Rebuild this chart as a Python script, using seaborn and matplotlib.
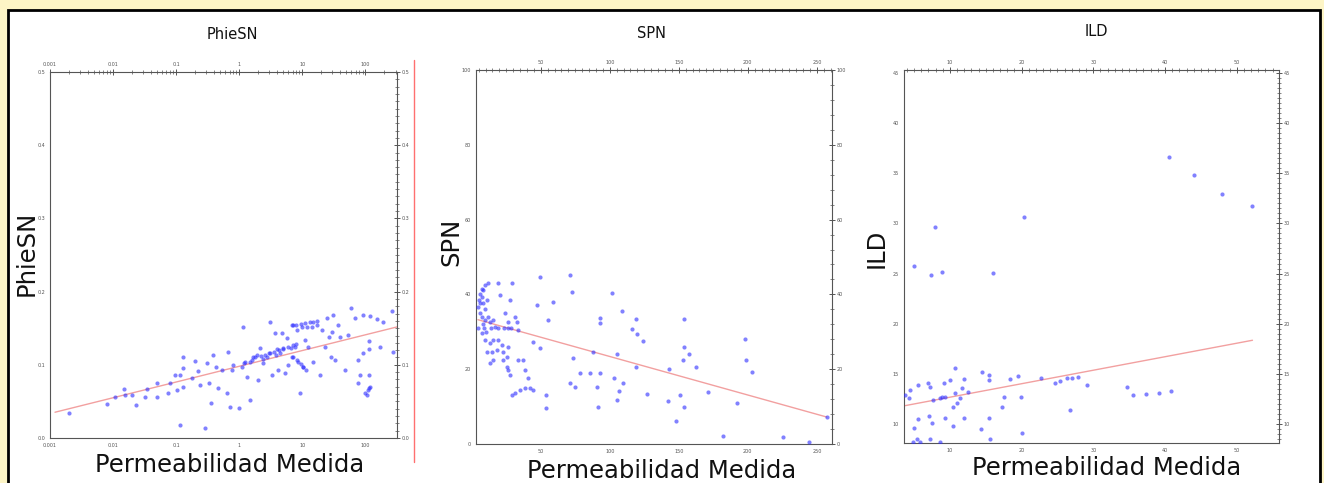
import numpy as np
import pandas as pd
import matplotlib
matplotlib.use("Agg")
import matplotlib.pyplot as plt
import seaborn as sns
from matplotlib.patches import Rectangle
from matplotlib.lines import Line2D
from matplotlib.ticker import MultipleLocator, LogLocator, FixedLocator, FixedFormatter

# ==========================================
# Data
# ==========================================

# PhieSN vs permeability (log x axis)
phiesn_perm = [0.0020, 0.0080, 0.0108, 0.0150, 0.0155, 0.020, 0.023, 0.032, 0.035, 0.050,
               0.050, 0.075, 0.080, 0.096, 0.104, 0.116, 0.129, 0.129, 0.129, 0.116,
               0.18, 0.20, 0.22, 0.24, 0.29, 0.31, 0.33, 0.35, 0.39, 0.42,
               0.46, 0.54, 0.65, 0.67, 0.72, 0.77, 0.80, 1.0, 1.12, 1.16,
               1.24, 1.34, 1.50, 1.61, 1.67, 1.93, 2.0, 2.15, 2.40, 2.78,
               3.1, 3.1, 3.34, 3.72, 4.0, 4.16, 4.48, 4.8, 5.0, 5.4,
               5.8, 6.0, 6.5, 6.9, 7.2, 7.7, 8.3, 8.6, 9.3, 10,
               10.4, 11.2, 12, 12.4, 14.4, 15, 17.3, 19.3, 20.7, 23,
               25, 26, 28, 30, 31, 33, 37, 40, 48, 52,
               58, 69, 75, 77, 83, 90, 93, 100, 104, 108,
               112, 116, 112, 112, 112, 120, 155, 173, 193, 268,
               278, 1.5, 1.8, 2.2, 2.6, 3.0, 3.5, 4.2, 5.0, 6.0,
               7.0, 8.0, 1.2, 2.4, 3.8, 6.9, 8.0, 9.5, 11, 13,
               15, 17, 7.2, 8.3, 9.5, 10.4, 11.5]
phiesn_val = [0.034, 0.047, 0.056, 0.067, 0.059, 0.059, 0.045, 0.056, 0.067, 0.075,
              0.056, 0.062, 0.075, 0.086, 0.066, 0.086, 0.096, 0.110, 0.070, 0.018,
              0.082, 0.105, 0.092, 0.073, 0.014, 0.103, 0.075, 0.048, 0.114, 0.097,
              0.068, 0.093, 0.062, 0.118, 0.042, 0.093, 0.100, 0.041, 0.097, 0.151,
              0.104, 0.084, 0.052, 0.107, 0.111, 0.114, 0.079, 0.123, 0.103, 0.111,
              0.158, 0.116, 0.086, 0.144, 0.121, 0.093, 0.116, 0.144, 0.123, 0.089,
              0.137, 0.100, 0.123, 0.111, 0.155, 0.125, 0.148, 0.104, 0.062, 0.151,
              0.097, 0.134, 0.151, 0.125, 0.152, 0.104, 0.155, 0.086, 0.148, 0.125,
              0.164, 0.138, 0.111, 0.145, 0.168, 0.107, 0.155, 0.138, 0.093, 0.141,
              0.177, 0.164, 0.075, 0.107, 0.086, 0.116, 0.168, 0.062, 0.059, 0.066,
              0.068, 0.070, 0.132, 0.121, 0.086, 0.166, 0.162, 0.125, 0.158, 0.173,
              0.118, 0.104, 0.110, 0.112, 0.114, 0.116, 0.118, 0.120, 0.121, 0.124,
              0.127, 0.129, 0.102, 0.108, 0.114, 0.154, 0.155, 0.156, 0.157, 0.158,
              0.159, 0.160, 0.111, 0.106, 0.101, 0.097, 0.093]

# SPN vs permeability
spn_perm = [9.6, 11.7, 8.1, 7.4, 6.0, 4.5, 8.1, 11.0, 6.0, 7.4,
            9.6, 11.7, 13.2, 15.3, 19.0, 20.4, 27.6, 29.1, 24.0, 26.2,
            31.2, 32.7, 33.4, 16.8, 26.2, 7.4, 9.6, 13.2, 15.3, 19.0,
            21.8, 11.0, 14.6, 18.2, 22.6, 25.5, 26.2, 13.2, 15.3, 22.6,
            25.5, 26.2, 27.6, 29.1, 31.2, 34.8, 38.4, 33.4, 37.0, 38.4,
            40.6, 42.1, 44.2, 47.1, 58.7, 49.3, 55.1, 49.3, 44.2, 53.6,
            53.6, 71.0, 72.4, 73.2, 71.0, 74.5, 78.2, 85.4, 87.5, 90.4,
            92.6, 91.2, 92.6, 92.6, 101.3, 109.2, 119.3, 116.4, 120.0, 124.4,
            105.6, 119.3, 103.4, 109.9, 107.0, 105.6, 127.3, 143.1, 142.4, 148.2,
            154.0, 154.0, 153.3, 157.6, 162.6, 151.1, 154.0, 171.3, 182.1, 192.2,
            198.0, 198.7, 203.1, 225.5, 244.2, 257.2, 4.5, 8.8, 13.9, 19.0,
            23.3, 28.3, 6.0, 7.4, 5.0, 9.6, 8.1, 10.5]
spn_val = [42.5, 43.0, 41.2, 39.3, 37.7, 36.6, 37.7, 38.5, 35.0, 34.0,
           33.2, 34.0, 32.6, 33.2, 43.0, 39.8, 38.5, 43.0, 35.0, 32.6,
           34.0, 32.6, 30.5, 31.3, 31.0, 29.7, 27.8, 27.0, 27.8, 27.8,
           26.5, 24.6, 24.6, 25.1, 24.6, 23.3, 25.9, 21.7, 22.5, 22.5,
           20.6, 19.8, 18.4, 13.1, 13.6, 14.4, 15.0, 22.5, 22.5, 19.8,
           17.6, 15.0, 14.4, 37.2, 38.0, 44.7, 33.2, 25.7, 27.3, 13.1,
           9.6, 45.2, 40.6, 23.0, 16.3, 15.2, 19.0, 19.0, 24.6, 15.2,
           19.0, 9.9, 33.7, 32.4, 40.4, 35.6, 33.4, 30.7, 29.4, 27.5,
           24.1, 20.6, 17.6, 16.3, 14.2, 11.8, 13.4, 20.1, 11.5, 6.1,
           33.4, 25.9, 22.5, 24.1, 20.6, 13.1, 9.9, 13.9, 2.1, 11.0,
           28.1, 22.5, 19.3, 1.9, 0.5, 7.2, 31.0, 31.0, 31.0, 31.0,
           31.0, 31.0, 40.0, 41.5, 38.5, 36.0, 32.0, 30.0]

# ILD vs permeability
ild_perm = [40.5, 44.0, 47.9, 52.2, 20.3, 7.9, 5.0, 7.4, 8.9, 16.0,
            10.7, 14.5, 11.9, 15.4, 15.4, 18.4, 19.5, 22.7, 24.6, 25.3,
            26.3, 27.1, 27.8, 29.1, 34.7, 35.5, 37.3, 39.1, 40.9, 26.7,
            19.9, 17.5, 17.2, 20.0, 15.4, 14.3, 15.6, 11.9, 10.4, 10.4,
            11.0, 10.7, 9.2, 8.9, 9.3, 7.6, 6.9, 7.2, 7.5, 7.1,
            5.5, 5.5, 5.0, 4.4, 4.3, 3.7, 5.4, 4.8, 5.8, 7.2,
            8.6, 10.0, 11.7, 12.5, 11.4, 9.3, 8.6]
ild_val = [36.6, 34.8, 32.9, 31.7, 30.6, 29.6, 25.8, 24.9, 25.2, 25.1,
           15.6, 15.2, 14.5, 14.9, 14.4, 14.5, 14.8, 14.6, 14.1, 14.3,
           14.6, 14.6, 14.7, 13.9, 13.7, 12.9, 13.0, 13.1, 13.3, 11.4,
           12.7, 12.7, 11.7, 9.1, 10.6, 9.5, 8.5, 10.6, 9.8, 11.7,
           12.1, 13.1, 14.1, 12.7, 10.6, 12.4, 14.1, 13.7, 10.1, 10.8,
           13.9, 10.5, 9.6, 13.4, 12.6, 12.9, 8.5, 8.2, 8.2, 8.5,
           8.2, 14.4, 13.6, 13.2, 12.6, 12.7, 12.6]

# trend lines as drawn in the picture: value = intercept + slope * x
# (x is log10(permeability) for PhieSN)
trend_intercept = [0.098, 33.7, 11.32]
trend_slope = [0.0215, -0.103, 0.1346]

panel_names = ["PhieSN", "SPN", "ILD"]

# ==========================================
# Style
# ==========================================

sns.set_style("white")
plt.rcParams["font.family"] = ["DejaVu Sans"]

W, H = 1324, 483
fig = plt.figure(figsize=(W / 100, H / 100), dpi=100, facecolor="#fdf5c6")

# white slide box with black frame (behind everything)
fig.patches.append(Rectangle((8 / W, -0.02), (1320 - 8) / W, 1 - 10 / H + 0.02,
                             transform=fig.transFigure, facecolor="white",
                             edgecolor="black", lw=2, zorder=-10))

# axes boxes in pixels: left, top, right, bottom
boxes = [(50, 72, 397, 438), (476, 70, 832, 444), (904, 70, 1279, 443)]
axes = []
for (l, t, r, b) in boxes:
    axes.append(fig.add_axes([l / W, (H - b) / H, (r - l) / W, (b - t) / H], zorder=1))

point_color = "#2e2eff"
line_color = "#f2a0a0"
tick_color = "#555555"

frames = [
    pd.DataFrame({"perm": phiesn_perm, "val": phiesn_val}),
    pd.DataFrame({"perm": spn_perm, "val": spn_val}),
    pd.DataFrame({"perm": ild_perm, "val": ild_val}),
]

xlims = [(0.001, 316), (3.1, 261), (3.6, 55.9)]
ylims = [(0, 0.5), (0, 100), (8.1, 45.3)]

for i, (ax, df) in enumerate(zip(axes, frames)):
    ax.set_facecolor("white")
    sns.scatterplot(data=df, x="perm", y="val", ax=ax, color=point_color,
                    s=9, alpha=0.6, linewidth=0, zorder=3)

    # trend line over the data range
    if i == 0:
        ax.set_xscale("log")
        xs = np.logspace(np.log10(0.0012), np.log10(df["perm"].max() * 1.15), 50)
        ys = trend_intercept[i] + trend_slope[i] * np.log10(xs)
    else:
        xs = np.linspace(df["perm"].min(), df["perm"].max(), 50)
        ys = trend_intercept[i] + trend_slope[i] * xs
    sns.lineplot(x=xs, y=ys, ax=ax, color=line_color, lw=1, zorder=2)

    ax.set_xlim(*xlims[i])
    ax.set_ylim(*ylims[i])

    for sp in ax.spines.values():
        sp.set_color("#555555")
        sp.set_linewidth(0.8)

    ax.tick_params(which="both", top=True, right=True, labeltop=True, labelright=True,
                   direction="inout", color=tick_color, labelcolor=tick_color,
                   labelsize=3.5, pad=1)
    ax.tick_params(which="major", length=5, width=0.7)
    ax.tick_params(which="minor", length=2.5, width=0.5)

# PhieSN axes ticks
ax = axes[0]
ax.xaxis.set_major_locator(FixedLocator([0.001, 0.01, 0.1, 1, 10, 100]))
ax.xaxis.set_major_formatter(FixedFormatter(["0.001", "0.01", "0.1", "1", "10", "100"]))
ax.xaxis.set_minor_locator(LogLocator(base=10, subs=np.arange(2, 10)))
ax.yaxis.set_major_locator(MultipleLocator(0.1))
ax.yaxis.set_minor_locator(MultipleLocator(0.01))

# SPN axes ticks
ax = axes[1]
ax.xaxis.set_major_locator(MultipleLocator(50))
ax.xaxis.set_minor_locator(MultipleLocator(5))
ax.yaxis.set_major_locator(MultipleLocator(20))
ax.yaxis.set_minor_locator(MultipleLocator(4))

# ILD axes ticks
ax = axes[2]
ax.xaxis.set_major_locator(MultipleLocator(10))
ax.xaxis.set_minor_locator(MultipleLocator(1))
ax.yaxis.set_major_locator(MultipleLocator(5))
ax.yaxis.set_minor_locator(MultipleLocator(0.5))

# titles and labels
title_pos = [(0.527, 1.079), (0.492, 1.075), (0.512, 1.080)]
ylabel_pos = [(-0.068, 0.505), (-0.070, 0.54), (-0.072, 0.523)]
xlabel_pos = [(0.519, -0.074), (0.522, -0.072), (0.541, -0.067)]

for ax, name, tp, yp, xp in zip(axes, panel_names, title_pos, ylabel_pos, xlabel_pos):
    ax.set_title(name, x=tp[0], y=tp[1], va="center", fontsize=10.5, color="#111111")
    ax.set_ylabel(name, fontsize=17.5, color="#111111")
    ax.yaxis.label.set_va("center")
    ax.yaxis.set_label_coords(*yp)
    ax.set_xlabel("Permeabilidad Medida", fontsize=17.5, color="#111111")
    ax.xaxis.label.set_va("center")
    ax.xaxis.set_label_coords(*xp)

# thin red separator right of the first panel
fig.add_artist(Line2D([414 / W, 414 / W], [1 - 462 / H, 1 - 60 / H],
                      transform=fig.transFigure, color="#ff7070", lw=1))

fig.savefig("out.png", dpi=100, facecolor=fig.get_facecolor())
